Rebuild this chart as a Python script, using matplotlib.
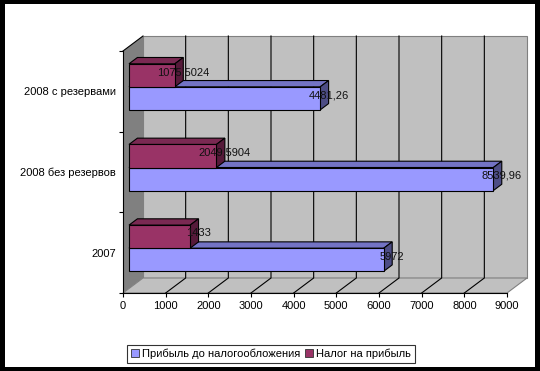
import matplotlib
matplotlib.use("Agg")
import matplotlib.pyplot as plt
from matplotlib.patches import Polygon, Rectangle, Patch

plt.rcParams['font.family'] = ['Liberation Sans', 'DejaVu Sans']

categories = ["2007", "2008 без резервов", "2008 с резервами"]
profit = [5972, 8539.96, 4481.26]
tax = [1433, 2049.5904, 1075.5024]
profit_labels = ["5972", "8539,96", "4481,26"]
tax_labels = ["1433", "2049,5904", "1075,5024"]
series_names = ["Прибыль до налогообложения", "Налог на прибыль"]
xticks = [0, 1000, 2000, 3000, 4000, 5000, 6000, 7000, 8000, 9000]

W, H = 540, 371
DPI = 100
fig = plt.figure(figsize=(W / DPI, H / DPI), dpi=DPI)
fig.patch.set_facecolor("black")
fig.add_artist(Rectangle((5 / W, 4 / H), (W - 10) / W, (H - 8) / H,
                         transform=fig.transFigure, facecolor="white",
                         edgecolor="none", zorder=0))

FS = 8.0
ax_left, ax_right, ax_top, ax_bot = 123, 507, 51, 293
ax = fig.add_axes([ax_left / W, (H - ax_bot) / H,
                   (ax_right - ax_left) / W, (ax_bot - ax_top) / H])
ax.set_facecolor("none")
xmax = 9000
ax.set_xlim(0, xmax)
ax.set_ylim(0, 3)

# depth vector in pixels -> data units
DPX, DPY = 20, 15
dX = DPX / (ax_right - ax_left) * xmax
dY = DPY / (ax_bot - ax_top) * 3

wall_dark = "#808080"
wall_light = "#C0C0C0"

# left wall
ax.add_patch(Polygon([(0, 0), (dX, dY), (dX, 3 + dY), (0, 3)], closed=True,
                     facecolor=wall_dark, edgecolor="none", clip_on=False, zorder=1))
# back wall
ax.add_patch(Rectangle((dX, dY), xmax, 3, facecolor=wall_light, edgecolor=wall_dark,
                       linewidth=0.8, clip_on=False, zorder=1))
# floor
ax.add_patch(Polygon([(0, 0), (xmax, 0), (xmax + dX, dY), (dX, dY)], closed=True,
                     facecolor=wall_light, edgecolor=wall_dark, linewidth=0.8,
                     clip_on=False, zorder=1))
# top edge of left wall
ax.plot([0, dX], [3, 3 + dY], color="black", lw=0.8, clip_on=False, zorder=2)

# gridlines
for v in xticks[1:-1]:
    ax.plot([v, v + dX, v + dX], [0, dY, 3 + dY], color="black", lw=0.8,
            clip_on=False, zorder=2)

f0, f1 = 0.30, 0.72
gap = 1.5
bh = 1 / (2 + gap)

colors = {
    "profit": ("#9999FF", "#7373C4", "#4D4D85"),
    "tax": ("#993366", "#7A2952", "#561A3A"),
}


def draw_bar(y0, val, cols, z):
    front, top, side = cols
    ox0, oy0 = f0 * dX, f0 * dY
    ox1, oy1 = f1 * dX, f1 * dY
    y1 = y0 + bh
    kw = dict(edgecolor="black", linewidth=0.8, clip_on=False, zorder=z,
              joinstyle="miter")
    # top face
    ax.add_patch(Polygon([(ox0, y1 + oy0), (val + ox0, y1 + oy0),
                          (val + ox1, y1 + oy1), (ox1, y1 + oy1)],
                         closed=True, facecolor=top, **kw))
    # side face
    ax.add_patch(Polygon([(val + ox0, y0 + oy0), (val + ox1, y0 + oy1),
                          (val + ox1, y1 + oy1), (val + ox0, y1 + oy0)],
                         closed=True, facecolor=side, **kw))
    # front face
    ax.add_patch(Polygon([(ox0, y0 + oy0), (val + ox0, y0 + oy0),
                          (val + ox0, y1 + oy0), (ox0, y1 + oy0)],
                         closed=True, facecolor=front, **kw))


z = 3
for i in range(len(categories)):
    yb = i + gap / 2 / (2 + gap)
    draw_bar(yb, profit[i], colors["profit"], z)
    z += 1
    draw_bar(yb + bh, tax[i], colors["tax"], z)
    z += 1

for i in range(len(categories)):
    yb = i + gap / 2 / (2 + gap)
    ym = 0.5 * (f0 + f1) * dY
    ax.text(profit[i] + f1 * dX, yb + bh / 2 + ym, profit_labels[i], ha="center",
            va="center", fontsize=FS, color="#111111", zorder=20, clip_on=False)
    ax.text(tax[i] + f1 * dX, yb + 1.5 * bh + ym, tax_labels[i], ha="center",
            va="center", fontsize=FS, color="#111111", zorder=20, clip_on=False)

# axes
for s in ["top", "right"]:
    ax.spines[s].set_visible(False)
for s in ["left", "bottom"]:
    ax.spines[s].set_linewidth(0.8)
    ax.spines[s].set_zorder(15)
ax.set_xticks(xticks)
ax.set_xticklabels([str(t) for t in xticks], fontsize=FS)
ax.tick_params(axis="x", direction="out", length=3, width=0.8, pad=3)
ax.set_yticks([0, 1, 2, 3])
ax.set_yticklabels([])
ax.tick_params(axis="y", which="major", direction="out", length=3, width=0.8)
ax.set_yticks([0.5, 1.5, 2.5], minor=True)
ax.set_yticklabels(categories, minor=True, fontsize=FS)
ax.tick_params(axis="y", which="minor", length=0, pad=5)

handles = [Patch(facecolor=colors["profit"][0], edgecolor="#333333", linewidth=0.6),
           Patch(facecolor=colors["tax"][0], edgecolor="#333333", linewidth=0.6)]
leg = fig.legend(handles, series_names, loc="center",
                 bbox_to_anchor=(271 / W, (H - 354) / H), ncol=2, fontsize=FS,
                 frameon=True, fancybox=False, shadow=False,
                 handlelength=0.7, handleheight=0.7, handletextpad=0.3,
                 columnspacing=0.4, borderpad=0.35, borderaxespad=0)
leg.get_frame().set_edgecolor("black")
leg.get_frame().set_linewidth(0.8)

fig.savefig("out.png", dpi=DPI, facecolor=fig.get_facecolor())
